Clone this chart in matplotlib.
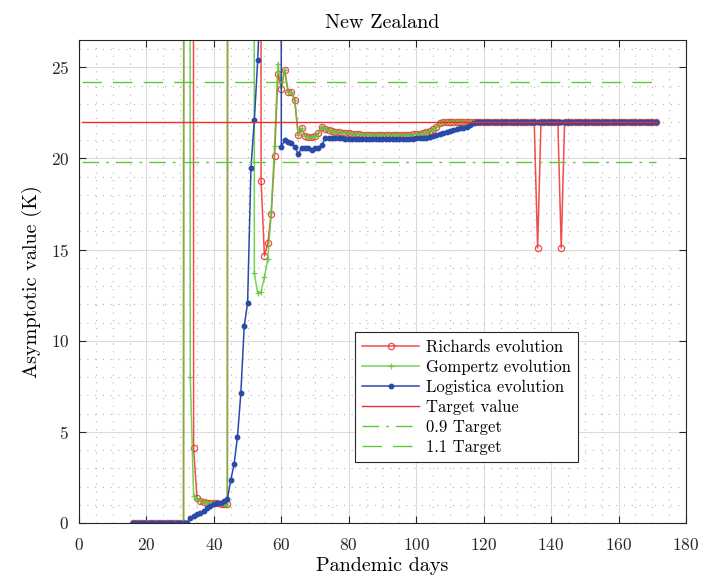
import matplotlib
matplotlib.use("Agg")
import matplotlib.pyplot as plt
from matplotlib.ticker import MultipleLocator
import numpy as np

plt.rcParams['font.family'] = ['cmr10', 'DejaVu Serif']
plt.rcParams['axes.formatter.use_mathtext'] = True

# pandemic days 16..171
days = np.arange(16, 172)

# Richards evolution (values above 26.5 are off the chart)
richards = [
    0, 0, 0, 0, 0, 0, 0, 0, 0, 0, 0, 0, 0, 0, 0, 0,          # 16-31
    500, 500, 4.09, 1.35, 1.20, 1.15, 1.12, 1.10, 1.10,       # 32-40
    1.08, 1.05, 1.05, 1.02,                                   # 41-44
    500, 500, 500, 500, 500, 500, 500, 500, 500,              # 45-53
    18.77, 14.65, 15.37, 16.94, 20.13, 24.65, 23.83, 24.85,   # 54-61
    23.65, 23.65, 23.19, 21.30, 21.65, 21.25, 21.20, 21.20,   # 62-69
    21.25, 21.40, 21.75, 21.60, 21.55, 21.50, 21.47, 21.45,   # 70-77
    21.42, 21.40, 21.38, 21.36, 21.34, 21.32, 21.30, 21.29,   # 78-85
    21.27, 21.27, 21.27, 21.27, 21.27, 21.27, 21.27, 21.27,   # 86-93
    21.27, 21.27, 21.28, 21.29, 21.30, 21.32, 21.34, 21.37,   # 94-101
    21.40, 21.44, 21.50, 21.60, 21.75, 21.95, 22.00, 22.00,   # 102-109
    22.00, 22.00, 22.00, 22.00, 22.00, 22.00, 22.00, 22.00,   # 110-117
    22.00, 22.00, 22.00, 22.00, 22.00, 22.00, 22.00, 22.00,   # 118-125
    22.00, 22.00, 22.00, 22.00, 22.00, 22.00, 22.00, 22.00,   # 126-133
    22.00, 22.00, 15.09, 22.00, 22.00, 22.00, 22.00, 22.00,   # 134-141
    22.00, 15.09, 22.00, 22.00, 22.00, 22.00, 22.00, 22.00,   # 142-149
    22.00, 22.00, 22.00, 22.00, 22.00, 22.00, 22.00, 22.00,   # 150-157
    22.00, 22.00, 22.00, 22.00, 22.00, 22.00, 22.00, 22.00,   # 158-165
    22.00, 22.00, 22.00, 22.00, 22.00, 22.00,                 # 166-171
]

# Gompertz evolution
gompertz = [
    0, 0, 0, 0, 0, 0, 0, 0, 0, 0, 0, 0, 0, 0, 0, 0,          # 16-31
    500, 8.02, 1.48, 1.30, 1.20, 1.15, 1.12, 1.10, 1.10,      # 32-40
    1.08, 1.05, 1.05, 1.00,                                   # 41-44
    500, 500, 500, 500, 500, 500, 500,                        # 45-51
    13.70, 12.60, 12.70, 13.50, 14.50, 17.00, 20.70, 25.20,   # 52-59
    24.00, 24.85,                                             # 60-61
    23.65, 23.65, 23.19, 21.30, 21.65, 21.25, 21.20, 21.20,   # 62-69
    21.25, 21.40, 21.75, 21.60, 21.55, 21.50, 21.47, 21.45,   # 70-77
    21.42, 21.40, 21.38, 21.36, 21.34, 21.32, 21.30, 21.29,   # 78-85
    21.27, 21.27, 21.27, 21.27, 21.27, 21.27, 21.27, 21.27,   # 86-93
    21.27, 21.27, 21.28, 21.29, 21.30, 21.32, 21.34, 21.37,   # 94-101
    21.40, 21.44, 21.50, 21.60, 21.75, 21.95, 22.00, 22.00,   # 102-109
    22.00, 22.00, 22.00, 22.00, 22.00, 22.00, 22.00, 22.00,   # 110-117
    22.00, 22.00, 22.00, 22.00, 22.00, 22.00, 22.00, 22.00,   # 118-125
    22.00, 22.00, 22.00, 22.00, 22.00, 22.00, 22.00, 22.00,   # 126-133
    22.00, 22.00, 22.00, 22.00, 22.00, 22.00, 22.00, 22.00,   # 134-141
    22.00, 22.00, 22.00, 22.00, 22.00, 22.00, 22.00, 22.00,   # 142-149
    22.00, 22.00, 22.00, 22.00, 22.00, 22.00, 22.00, 22.00,   # 150-157
    22.00, 22.00, 22.00, 22.00, 22.00, 22.00, 22.00, 22.00,   # 158-165
    22.00, 22.00, 22.00, 22.00, 22.00, 22.00,                 # 166-171
]

# Logistica evolution
logistica = [
    0, 0, 0, 0, 0, 0, 0, 0, 0, 0, 0, 0, 0, 0, 0, 0, 0,       # 16-32
    0.30, 0.40, 0.50, 0.55, 0.65, 0.80, 0.95, 1.03,           # 33-40
    1.07, 1.12, 1.20, 1.30,                                   # 41-44
    2.35, 3.23, 4.73, 7.12, 10.80, 12.06, 19.48, 22.10,       # 45-52
    25.40, 30.0, 60.0, 120.0, 200.0, 260.0, 300.0,            # 53-59
    20.65, 21.00, 20.90, 20.85, 20.65, 20.25, 20.55, 20.60,   # 60-67
    20.55, 20.45, 20.55, 20.60, 20.75, 21.10, 21.15, 21.12,   # 68-75
    21.10, 21.10, 21.10, 21.08, 21.08, 21.07, 21.07, 21.06,   # 76-83
    21.06, 21.05, 21.05, 21.05, 21.05, 21.05, 21.05, 21.05,   # 84-91
    21.05, 21.05, 21.05, 21.06, 21.06, 21.07, 21.08, 21.09,   # 92-99
    21.10, 21.10, 21.12, 21.15, 21.20, 21.25, 21.30, 21.37,   # 100-107
    21.42, 21.47, 21.52, 21.56, 21.60, 21.65, 21.70, 21.75,   # 108-115
    21.85, 21.95, 22.00, 22.00, 22.00, 22.00, 22.00, 22.00,   # 116-123
    22.00, 22.00, 22.00, 22.00, 22.00, 22.00, 22.00, 22.00,   # 124-131
    22.00, 22.00, 22.00, 22.00, 22.00, 22.00, 22.00, 22.00,   # 132-139
    22.00, 22.00, 22.00, 22.00, 22.00, 22.00, 22.00, 22.00,   # 140-147
    22.00, 22.00, 22.00, 22.00, 22.00, 22.00, 22.00, 22.00,   # 148-155
    22.00, 22.00, 22.00, 22.00, 22.00, 22.00, 22.00, 22.00,   # 156-163
    22.00, 22.00, 22.00, 22.00, 22.00, 22.00, 22.00, 22.00,   # 164-171
]

target = 22.0
target_days = [1, 171]

red = '#f02c2c'
green = '#5fc83a'
blue = '#2a4aa8'

fig = plt.figure(figsize=(7.07, 5.80), dpi=100)
ax = fig.add_axes([0.1117, 0.0983, 0.8586, 0.8327])

ax.plot(days, richards, '-o', color=red, lw=1.1, ms=4.5, mfc='none',
        mew=0.9, alpha=0.85, label='Richards evolution')
ax.plot(days, gompertz, '-+', color=green, lw=1.1, ms=5, mew=0.9,
        alpha=0.85, label='Gompertz evolution')
ax.plot(days, logistica, '-o', color=blue, lw=1.1, ms=3.2,
        label='Logistica evolution')
ax.plot(target_days, [target, target], '-', color=red, lw=1.0,
        label='Target value')
ax.plot(target_days, [0.9 * target, 0.9 * target], '-.', color=green,
        lw=1.0, dashes=(12, 5, 2, 5), label='0.9 Target')
ax.plot(target_days, [1.1 * target, 1.1 * target], '--', color=green,
        lw=1.0, dashes=(14, 8), label='1.1 Target')

ax.set_xlim(0, 180)
ax.set_ylim(0, 26.5)
ax.xaxis.set_major_locator(MultipleLocator(20))
ax.xaxis.set_minor_locator(MultipleLocator(5))
ax.yaxis.set_major_locator(MultipleLocator(5))
ax.yaxis.set_minor_locator(MultipleLocator(1))
ax.grid(which='major', color='#dcdcdc', lw=0.8)
ax.grid(which='minor', color='#b4b4b4', lw=0.8, ls=(0, (1, 6)))
ax.set_axisbelow(True)
ax.tick_params(which='major', direction='in', top=True, right=True,
               length=5, labelsize=12.5, colors='#262626')
ax.tick_params(axis='x', which='major', pad=10)
ax.tick_params(axis='y', which='major', pad=7)
ax.tick_params(which='minor', length=0, top=True, right=True)
for s in ax.spines.values():
    s.set_color('#262626')
    s.set_linewidth(0.8)

ax.set_title('New Zealand', fontsize=14.5, pad=9)
ax.set_xlabel('Pandemic days', fontsize=14.5, labelpad=3)
ax.set_ylabel('Asymptotic value (K)', fontsize=14.5, labelpad=6)

leg = ax.legend(loc='upper left', bbox_to_anchor=(0.4547, 0.3954),
                borderaxespad=0, fontsize=12, frameon=True, fancybox=False,
                edgecolor='#262626', framealpha=1, borderpad=0.45,
                labelspacing=0.28, handlelength=3.4, handletextpad=0.4)
leg.get_frame().set_linewidth(0.8)

fig.savefig('out.png', dpi=100)
